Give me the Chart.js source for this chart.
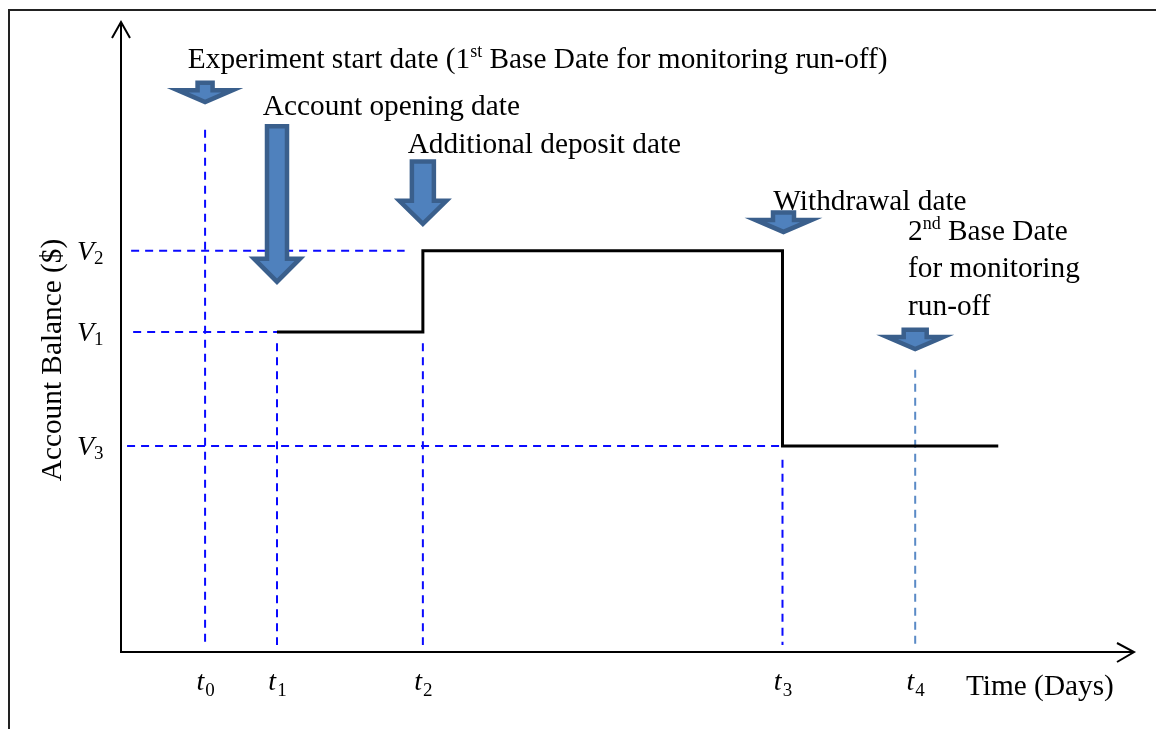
<!DOCTYPE html>
<html>
<head>
<meta charset="utf-8">
<title>Account balance run-off</title>
<script src="https://cdn.jsdelivr.net/npm/chart.js@4"></script>
<style>
html, body { margin: 0; padding: 0; background: #fff; }
#wrap { position: relative; width: 1156px; height: 729px; }
#frame { position: absolute; left: 8px; top: 9px; right: 0; bottom: -2px; border-left: 2px solid #222; border-top: 2px solid #222; }
#chart { position: absolute; left: 0; top: 0; }
</style>
</head>
<body>
<div id="wrap">
  <div id="frame"></div>
  <canvas id="chart" width="1156" height="729"></canvas>
</div>
<script>
//========================= data ===========================
var tickNames = ['0', '1', '2', '3', '4'];          // t subscripts
var eventDays = [8.3, 15.4, 29.8, 65.3, 78.4];       // t0..t4
var endDay = 86.6;

var levelNames = ['1', '2', '3'];                    // V subscripts
var levels = [50.8, 63.7, 32.7];                     // V1, V2, V3

var balanceDays = [15.4, 29.8, 65.3, 86.6];
var balanceValues = [50.8, 63.7, 32.7, 32.7];

// dashed guides
var levelGuideFrom = [1.2, 1.0, 0.6];
var levelGuideTo = [15.4, 28.0, 65.05];
var dayGuideTop = [82.9, 49.0, 49.0, 30.5, 44.8];
var dayGuideBottom = 1.1;

// block arrows over each date (top of shaft, tip)
var arrowTop = [90.6, 83.7, 78.1, 70.0, 51.4];
var arrowTip = [86.8, 58.3, 67.5, 66.2, 47.6];

var eventLabels = [
    ['Experiment start date (1', 'st', ' Base Date for monitoring run-off)'],
    ['Account opening date'],
    ['Additional deposit date'],
    ['Withdrawal date'],
    ['2', 'nd', ' Base Date'],
    ['for monitoring'],
    ['run-off']
];
var xTitle = 'Time (Days)';
var yTitle = 'Account Balance ($)';

//========================= layout ===========================
var labelPos = [[6.6, 92.7], [14.0, 85.3], [28.3, 79.2], [64.4, 70.2], [77.7, 65.4], [77.7, 59.5], [77.7, 53.5]];
var arrowShaft = [15, 20, 22, 21, 23];
var arrowHead = [55, 46, 47, 56, 56];
var arrowHeadLen = [12, 23, 23, 12, 12];
var serif = '"Liberation Serif", "Times New Roman", serif';
var fontSize = 29.3;

var datasets = [];
datasets.push({
    data: balanceDays.map(function (d, i) { return { x: d, y: balanceValues[i] }; }),
    stepped: 'before',
    borderColor: '#000',
    borderWidth: 3,
    pointRadius: 0,
    order: 0
});
levels.forEach(function (v, i) {
    datasets.push({
        data: [{ x: levelGuideFrom[i], y: v }, { x: levelGuideTo[i], y: v }],
        borderColor: '#0a0aff',
        borderWidth: 2,
        borderDash: [8, 6],
        pointRadius: 0,
        order: 1
    });
});
eventDays.forEach(function (d, i) {
    datasets.push({
        data: [{ x: d, y: dayGuideTop[i] }, { x: d, y: dayGuideBottom }],
        borderColor: i === 4 ? '#5a8ac6' : '#0a0aff',
        borderWidth: 2,
        borderDash: [8, 6],
        pointRadius: 0,
        order: 1
    });
});

function drawRuns(ctx, runs, x, y, size) {
    ctx.textAlign = 'left';
    ctx.textBaseline = 'alphabetic';
    runs.forEach(function (r, k) {
        var sup = runs.length === 3 && k === 1;
        ctx.font = (sup ? Math.round(size * 0.6) : size) + 'px ' + serif;
        ctx.fillText(r, x, sup ? y - size * 0.38 : y);
        x += ctx.measureText(r).width;
    });
}

var decor = {
    id: 'decor',
    afterDatasetsDraw: function (chart) {
        var ctx = chart.ctx, xs = chart.scales.x, ys = chart.scales.y, a = chart.chartArea;
        ctx.save();
        // axes with open arrow heads
        ctx.strokeStyle = '#000';
        ctx.lineWidth = 2;
        ctx.beginPath();
        ctx.moveTo(a.left, a.bottom); ctx.lineTo(a.left, a.top);
        ctx.moveTo(a.left - 9, a.top + 16); ctx.lineTo(a.left, a.top); ctx.lineTo(a.left + 9, a.top + 16);
        ctx.moveTo(a.left - 1, a.bottom); ctx.lineTo(a.right, a.bottom);
        ctx.moveTo(a.right - 17, a.bottom - 9); ctx.lineTo(a.right, a.bottom); ctx.lineTo(a.right - 17, a.bottom + 10);
        ctx.stroke();

        // block arrows
        ctx.fillStyle = '#4f81bd';
        ctx.strokeStyle = '#3a5f8c';
        ctx.lineWidth = 4.5;
        ctx.lineJoin = 'miter';
        eventDays.forEach(function (d, i) {
            var cx = xs.getPixelForValue(d) + (i === 3 ? 1 : 0);
            var yT = ys.getPixelForValue(arrowTop[i]) + 1.5;
            var yP = ys.getPixelForValue(arrowTip[i]) - 3;
            var hb = yP - arrowHeadLen[i], sw = arrowShaft[i] / 2, hw = arrowHead[i] / 2;
            ctx.beginPath();
            ctx.moveTo(cx - sw, yT); ctx.lineTo(cx + sw, yT); ctx.lineTo(cx + sw, hb);
            ctx.lineTo(cx + hw, hb); ctx.lineTo(cx, yP); ctx.lineTo(cx - hw, hb);
            ctx.lineTo(cx - sw, hb); ctx.closePath();
            ctx.fill(); ctx.stroke();
        });

        // event labels
        ctx.fillStyle = '#000';
        eventLabels.forEach(function (runs, i) {
            drawRuns(ctx, runs, xs.getPixelForValue(labelPos[i][0]), ys.getPixelForValue(labelPos[i][1]), fontSize);
        });

        // x tick labels t_i
        eventDays.forEach(function (d, i) {
            var px = xs.getPixelForValue(d);
            ctx.font = 'italic 28px ' + serif;
            var w1 = ctx.measureText('t').width;
            ctx.font = '19px ' + serif;
            var w2 = ctx.measureText(tickNames[i]).width;
            var x0 = px - (w1 + w2) / 2;
            ctx.font = 'italic 28px ' + serif;
            ctx.fillText('t', x0, a.bottom + 38);
            ctx.font = '19px ' + serif;
            ctx.fillText(tickNames[i], x0 + w1 + 1, a.bottom + 44);
        });

        // y tick labels V_i
        levels.forEach(function (v, i) {
            var py = ys.getPixelForValue(v);
            ctx.font = 'italic 28px ' + serif;
            ctx.fillText('V', 77, py + 9);
            ctx.font = '19px ' + serif;
            ctx.fillText(levelNames[i], 94, py + 13);
        });

        // axis titles
        ctx.font = fontSize + 'px ' + serif;
        ctx.fillText(xTitle, 966, a.bottom + 43);
        ctx.translate(61, 360);
        ctx.rotate(-Math.PI / 2);
        ctx.textAlign = 'center';
        ctx.fillText(yTitle, 0, 0);
        ctx.restore();
    }
};

var chartId = new Chart(document.getElementById('chart').getContext('2d'), {
    type: 'line',
    data: { datasets: datasets },
    options: {
        responsive: false,
        animation: false,
        layout: { padding: { left: 121, top: 22, right: 22, bottom: 77 } },
        scales: {
            x: { type: 'linear', min: 0, max: 100, display: false },
            y: { type: 'linear', min: 0, max: 100, display: false }
        },
        plugins: {
            legend: { display: false },
            tooltip: { enabled: false }
        }
    },
    plugins: [decor]
});
</script>
</body>
</html>
